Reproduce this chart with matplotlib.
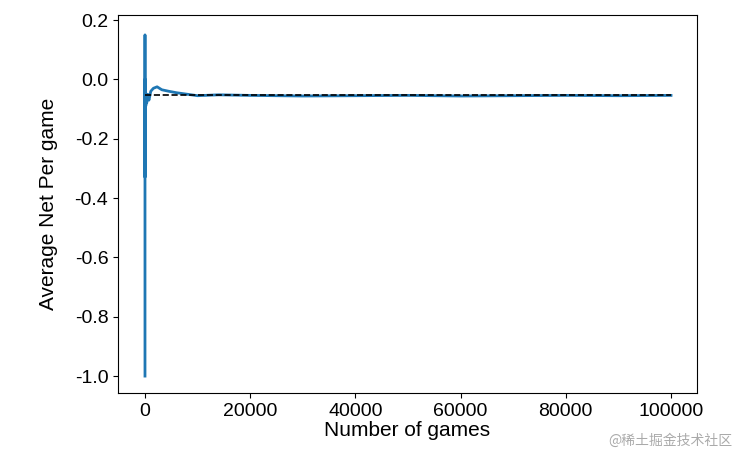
import matplotlib
matplotlib.use("Agg")
import matplotlib.pyplot as plt

games = [1, 2, 3, 4, 6, 9, 14, 20, 30, 45, 70, 100, 150, 220, 330, 500, 750, 1100,
         1600, 2300, 3200, 4500, 6000, 8000, 10000, 14000, 20000, 30000, 40000,
         50000, 60000, 70000, 80000, 90000, 100000]
avg_net = [-1.0, 0.15, -0.33, 0.0, -0.17, -0.11, 0.0, -0.05, -0.1, -0.02, -0.07,
           -0.04, -0.09, -0.06, -0.08, -0.05, -0.07, -0.04, -0.03, -0.025, -0.035,
           -0.04, -0.045, -0.05, -0.055, -0.052, -0.054, -0.056, -0.055,
           -0.054, -0.056, -0.055, -0.054, -0.055, -0.054]
expected = -0.0526

plt.rcParams['font.family'] = ['Liberation Sans', 'DejaVu Sans']
fig = plt.figure(figsize=(7.4, 4.57), dpi=100)
ax = fig.add_axes([118/740, 1-393/457, (697-118)/740, (393-15)/457])
ax.plot(games, avg_net, color='#1f77b4', lw=2)
ax.plot([games[0], games[-1]], [expected, expected], color='black', ls='--', lw=1.2)
ax.set_xlim(-5130, 104940)
ax.set_ylim(-1.057, 0.217)
ax.set_xticks([0, 20000, 40000, 60000, 80000, 100000])
ax.set_yticks([0.2, 0.0, -0.2, -0.4, -0.6, -0.8, -1.0])
ax.set_yticklabels(['0.2', '0.0', '-0.2', '-0.4', '-0.6', '-0.8', '-1.0'])
ax.tick_params(labelsize=14)
ax.set_xlabel('Number of games', fontsize=15, labelpad=1)
ax.set_ylabel('Average Net Per game', fontsize=15, labelpad=12)
fig.text(0.99, 0.02, '@稀土掘金技术社区', ha='right', va='bottom', fontsize=10,
         color='#aaaaaa', family=['Noto Sans CJK SC', 'DejaVu Sans'])
fig.savefig('out.png', dpi=100)
